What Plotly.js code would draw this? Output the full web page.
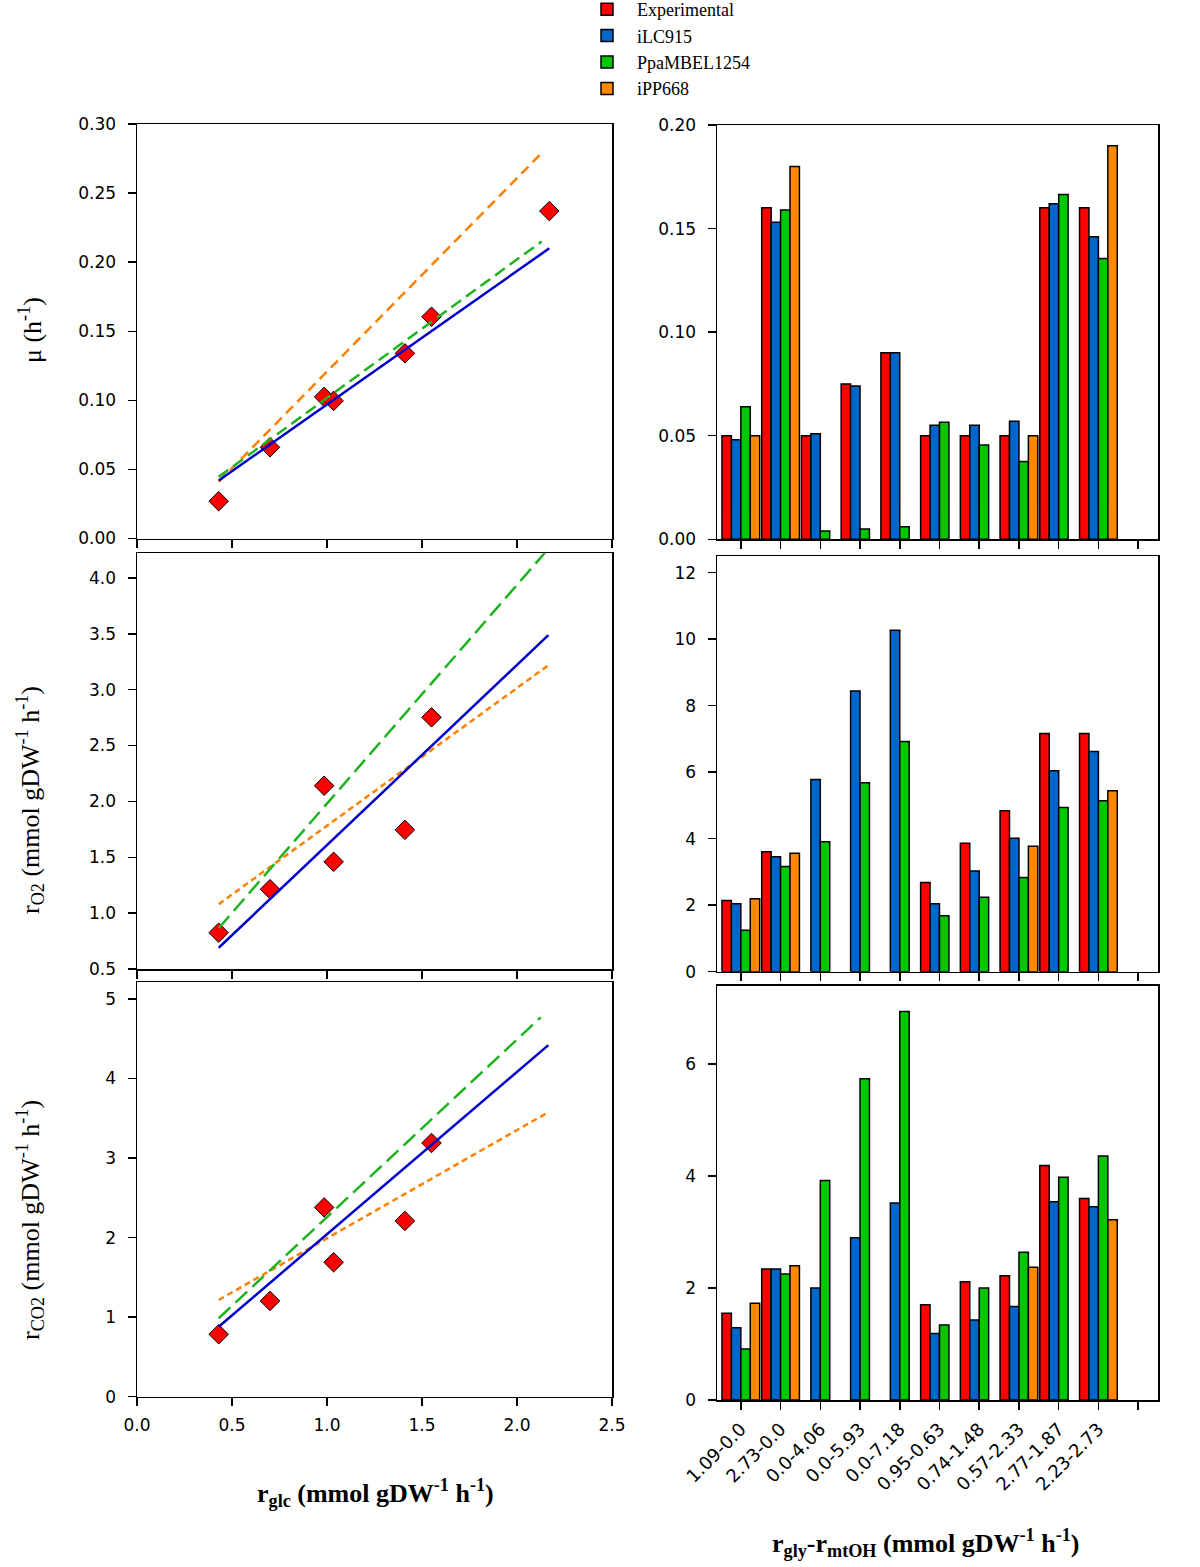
<!DOCTYPE html>
<html>
<head>
<meta charset="utf-8">
<script src="https://cdn.plot.ly/plotly-3.0.1.min.js"></script>
<style>
  html, body { margin: 0; padding: 0; background: #fff; }
  #chart { width: 1200px; height: 1567px; }
</style>
</head>
<body>
<div id="chart"></div>
<script>
// Right column: categories (r_gly - r_mtOH), last slot is empty
const catLabels = ['1.09-0.0', '2.73-0.0', '0.0-4.06', '0.0-5.93', '0.0-7.18',
                   '0.95-0.63', '0.74-1.48', '0.57-2.33', '2.77-1.87', '2.23-2.73', ''];
const catIndex = catLabels.map((_, i) => i);

// mu (h-1) bars
const muExpBar = [0.050, 0.160, 0.050, 0.075, 0.090, 0.050, 0.050, 0.050, 0.160, 0.160, null];
const muILC    = [0.048, 0.153, 0.051, 0.074, 0.090, 0.055, 0.055, 0.057, 0.162, 0.146, null];
const muPpa    = [0.064, 0.159, 0.004, 0.005, 0.006, 0.0565, 0.0455, 0.0375, 0.1665, 0.1355, null];
const muIPP    = [0.050, 0.180, null, null, null, null, null, 0.050, null, 0.190, null];

// rO2 bars
const o2ExpBar = [2.14, 3.61, null, null, null, 2.68, 3.86, 4.84, 7.16, 7.16, null];
const o2ILC    = [2.04, 3.46, 5.78, 8.44, 10.27, 2.04, 3.03, 4.01, 6.04, 6.62, null];
const o2Ppa    = [1.25, 3.16, 3.91, 5.68, 6.92, 1.68, 2.24, 2.83, 4.94, 5.14, null];
const o2IPP    = [2.19, 3.56, null, null, null, null, null, 3.77, null, 5.44, null];

// rCO2 bars
const co2ExpBar = [1.55, 2.34, null, null, null, 1.70, 2.11, 2.22, 4.19, 3.60, null];
const co2ILC    = [1.29, 2.34, 2.00, 2.90, 3.52, 1.19, 1.43, 1.67, 3.54, 3.45, null];
const co2Ppa    = [0.91, 2.25, 3.92, 5.74, 6.94, 1.34, 2.00, 2.64, 3.98, 4.36, null];
const co2IPP    = [1.73, 2.40, null, null, null, null, null, 2.37, null, 3.22, null];

// Left column: experimental points vs r_glc
const glc    = [0.43, 0.70, 0.985, 1.035, 1.41, 1.55, 2.17];
const muExp  = [0.027, 0.066, 0.1025, 0.0996, 0.134, 0.1605, 0.237];
const o2Exp  = [0.825, 1.214, 2.14, 1.459, 1.745, 2.752];
const co2Exp = [0.785, 1.204, 2.38, 1.69, 2.21, 3.19];

// model lines (start / end)
const muLineILC_x = [0.43, 2.17],  muLineILC_y = [0.042, 0.210];
const muLinePpa_x = [0.43, 2.13],  muLinePpa_y = [0.0446, 0.215];
const muLineIPP_x = [0.43, 2.13],  muLineIPP_y = [0.041, 0.279];
const o2LineILC_x = [0.43, 2.165], o2LineILC_y = [0.69, 3.487];
const o2LinePpa_x = [0.43, 2.17],  o2LinePpa_y = [0.865, 4.27];
const o2LineIPP_x = [0.43, 2.17],  o2LineIPP_y = [1.08, 3.224];
const co2LineILC_x = [0.43, 2.165], co2LineILC_y = [0.88, 4.42];
const co2LinePpa_x = [0.43, 2.125], co2LinePpa_y = [0.986, 4.77];
const co2LineIPP_x = [0.43, 2.165], co2LineIPP_y = [1.216, 3.577];

const seriesNames = ['Experimental', 'iLC915', 'PpaMBEL1254', 'iPP668'];
const barColors = ['#ff0000', '#0066cc', '#00c800', '#ff8800'];

const W = 1200, H = 1567;
const px = v => v / W;
const py = v => 1 - v / H;

const tickFont = { family: 'DejaVu Sans', size: 17, color: '#000' };
const serif = 'Liberation Serif';

function barTraces(values, xa, ya, showLegend) {
    return values.map((vals, i) => ({
        type: 'bar',
        x: catIndex,
        y: vals,
        name: seriesNames[i],
        legendgroup: seriesNames[i],
        showlegend: showLegend,
        xaxis: xa, yaxis: ya,
        marker: { color: barColors[i], line: { color: '#000', width: 1.5 } },
        hoverinfo: 'y'
    }));
}

function lineTrace(x, y, color, dash, xa, ya) {
    return {
        type: 'scatter', mode: 'lines', x: x, y: y,
        xaxis: xa, yaxis: ya, showlegend: false,
        line: { color: color, width: 2.5, dash: dash }
    };
}

function pointTrace(x, y, xa, ya) {
    return {
        type: 'scatter', mode: 'markers', x: x, y: y,
        xaxis: xa, yaxis: ya, showlegend: false,
        marker: { symbol: 'diamond', size: 15, color: '#ff0000', line: { color: '#000', width: 1 } }
    };
}

const traces = [
    pointTrace(glc, muExp, 'x', 'y'),
    lineTrace(muLineIPP_x, muLineIPP_y, '#ff7f00', '10px,6px', 'x', 'y'),
    lineTrace(muLinePpa_x, muLinePpa_y, '#1fb31f', '12px,6px', 'x', 'y'),
    lineTrace(muLineILC_x, muLineILC_y, '#0000cc', 'solid', 'x', 'y'),

    pointTrace(glc.slice(0, 6), o2Exp, 'x3', 'y3'),
    lineTrace(o2LineIPP_x, o2LineIPP_y, '#ff7f00', '6px,4px', 'x3', 'y3'),
    lineTrace(o2LinePpa_x, o2LinePpa_y, '#1fb31f', '16px,7px', 'x3', 'y3'),
    lineTrace(o2LineILC_x, o2LineILC_y, '#0000cc', 'solid', 'x3', 'y3'),

    pointTrace(glc.slice(0, 6), co2Exp, 'x5', 'y5'),
    lineTrace(co2LineIPP_x, co2LineIPP_y, '#ff7f00', '6px,4px', 'x5', 'y5'),
    lineTrace(co2LinePpa_x, co2LinePpa_y, '#1fb31f', '16px,7px', 'x5', 'y5'),
    lineTrace(co2LineILC_x, co2LineILC_y, '#0000cc', 'solid', 'x5', 'y5'),

    ...barTraces([muExpBar, muILC, muPpa, muIPP], 'x2', 'y2', true),
    ...barTraces([o2ExpBar, o2ILC, o2Ppa, o2IPP], 'x4', 'y4', false),
    ...barTraces([co2ExpBar, co2ILC, co2Ppa, co2IPP], 'x6', 'y6', false)
];

const axisBase = {
    showline: true, mirror: true, linecolor: '#000', linewidth: 1.5,
    ticks: 'outside', ticklen: 8, tickwidth: 1.5, tickcolor: '#000',
    showgrid: false, zeroline: false, tickfont: tickFont, fixedrange: true
};

function leftX(anchor, showLabels) {
    return { ...axisBase, domain: [px(137), px(612)], anchor: anchor, range: [0, 2.5],
             dtick: 0.5, tickformat: '.1f', showticklabels: showLabels, ticklabelstandoff: 4 };
}
function rightX(anchor, showLabels) {
    return { ...axisBase, domain: [px(717), px(1158)], anchor: anchor, range: [-0.6, 10.5],
             tickmode: 'array', tickvals: catIndex, ticktext: catLabels,
             tickangle: -45, showticklabels: showLabels,
             tickfont: { ...tickFont, size: 18 }, ticklabelstandoff: 2 };
}
function yAx(anchor, top, bottom, range, dtick, fmt) {
    return { ...axisBase, domain: [py(bottom), py(top)], anchor: anchor, range: range,
             dtick: dtick, tick0: 0, tickformat: fmt, ticklabelstandoff: 8 };
}

const sub = (t) => '<sub>' + t + '</sub>';
const sup = (t) => '<sup>' + t + '</sup>';
const unit = '(mmol gDW' + sup('-1') + ' h' + sup('-1') + ')';

const titleFont = { family: serif, size: 26, color: '#000' };

const layout = {
    width: W, height: H,
    margin: { l: 0, r: 0, t: 0, b: 0, autoexpand: false },
    paper_bgcolor: '#fff', plot_bgcolor: '#fff',
    barmode: 'group', bargap: 0.05, bargroupgap: 0,
    showlegend: true,
    legend: {
        x: px(577), y: 1 + 9 / H, xanchor: 'left', yanchor: 'top',
        font: { family: serif, size: 18, color: '#000' },
        tracegroupgap: 0, itemwidth: 50, bgcolor: 'rgba(0,0,0,0)'
    },
    xaxis:  leftX('y', false),
    yaxis:  yAx('x', 124, 538.5, [0, 0.30], 0.05, '.2f'),
    xaxis2: rightX('y2', false),
    yaxis2: yAx('x2', 125, 539.3, [0, 0.20], 0.05, '.2f'),
    xaxis3: leftX('y3', false),
    yaxis3: yAx('x3', 553.3, 969, [0.5, 4.22], 0.5, '.1f'),
    xaxis4: rightX('y4', false),
    yaxis4: yAx('x4', 556, 971.7, [0, 12.5], 2, 'd'),
    xaxis5: leftX('y5', true),
    yaxis5: yAx('x5', 982.3, 1396.7, [0, 5.21], 1, 'd'),
    xaxis6: rightX('y6', true),
    yaxis6: yAx('x6', 985.7, 1400, [0, 7.4], 2, 'd'),
    annotations: [
        { text: 'μ (h' + sup('-1') + ')', x: px(30), y: py(330), textangle: -90 },
        { text: 'r' + sub('O2') + ' ' + unit, x: px(30), y: py(800), textangle: -90 },
        { text: 'r' + sub('CO2') + ' ' + unit, x: px(30), y: py(1220), textangle: -90 },
        { text: '<b>r' + sub('glc') + ' ' + unit + '</b>', x: px(375), y: py(1493) },
        { text: '<b>r' + sub('gly') + '-r' + sub('mtOH') + ' ' + unit + '</b>', x: px(925), y: py(1543) }
    ].map(a => ({ ...a, xref: 'paper', yref: 'paper', showarrow: false,
                  xanchor: 'center', yanchor: 'middle', font: titleFont }))
};

Plotly.newPlot('chart', traces, layout, { displayModeBar: false, staticPlot: true });
</script>
</body>
</html>
